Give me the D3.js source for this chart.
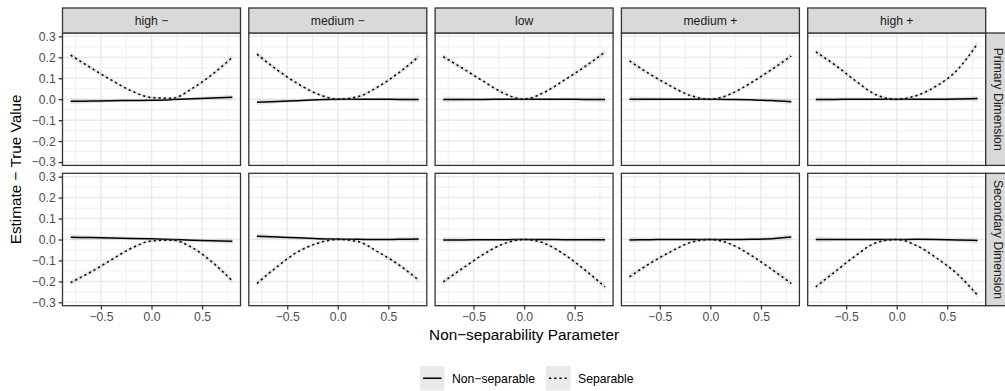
<!DOCTYPE html>
<html>
<head>
<meta charset="utf-8">
<script src="https://cdn.jsdelivr.net/npm/d3@7"></script>
<style>
  body { margin: 0; background: #fff; }
  text { font-family: "Liberation Sans", Arial, sans-serif; }
</style>
</head>
<body>
<div id="chart"></div>
<script>
// facet labels
const colLabels = ["high \u2212", "medium \u2212", "low", "medium +", "high +"];
const rowLabels = ["Primary Dimension", "Secondary Dimension"];
const seriesNames = ["Non\u2212separable", "Separable"];

// x positions of the fitted curves
const xPoints = [-0.8, -0.6, -0.4, -0.2, 0, 0.2, 0.4, 0.6, 0.8];

// primary dimension, one row per column facet
const primaryNonSep = [
  [-0.010, -0.009, -0.007, -0.006, -0.005, -0.002, 0.002, 0.006, 0.009],
  [-0.014, -0.011, -0.007, -0.003, 0.000, 0.000, 0.000, -0.001, -0.002],
  [-0.002, -0.001, -0.001, 0.000, 0.000, 0.000, 0.000, -0.001, -0.001],
  [0.000, 0.000, 0.000, 0.000, 0.000, -0.001, -0.003, -0.006, -0.012],
  [-0.002, -0.001, 0.000, 0.000, 0.000, 0.000, 0.000, 0.001, 0.003]
];
const primarySep = [
  [0.210, 0.150, 0.092, 0.040, 0.008, 0.004, 0.050, 0.118, 0.200],
  [0.215, 0.140, 0.075, 0.025, 0.000, 0.012, 0.060, 0.125, 0.203],
  [0.203, 0.145, 0.085, 0.028, 0.000, 0.033, 0.092, 0.155, 0.225],
  [0.183, 0.120, 0.065, 0.018, 0.000, 0.025, 0.078, 0.140, 0.206],
  [0.226, 0.160, 0.085, 0.020, 0.000, 0.018, 0.065, 0.140, 0.266]
];

// secondary dimension
const secondaryNonSep = [
  [0.011, 0.009, 0.007, 0.005, 0.003, 0.000, -0.003, -0.006, -0.008],
  [0.015, 0.012, 0.008, 0.004, 0.002, 0.001, 0.000, 0.001, 0.002],
  [-0.002, -0.002, -0.001, -0.001, 0.000, 0.000, -0.001, -0.001, -0.001],
  [-0.002, -0.001, 0.000, 0.000, 0.000, 0.000, 0.001, 0.004, 0.012],
  [0.000, 0.000, 0.000, 0.000, 0.000, 0.001, 0.000, -0.002, -0.005]
];
const secondarySep = [
  [-0.206, -0.155, -0.098, -0.042, -0.007, -0.003, -0.038, -0.108, -0.198],
  [-0.210, -0.130, -0.060, -0.018, 0.000, -0.010, -0.060, -0.120, -0.194],
  [-0.202, -0.135, -0.070, -0.020, 0.000, -0.018, -0.072, -0.145, -0.226],
  [-0.178, -0.115, -0.060, -0.015, 0.000, -0.022, -0.075, -0.140, -0.210],
  [-0.226, -0.150, -0.075, -0.015, 0.000, -0.030, -0.090, -0.165, -0.266]
];

// half width of the confidence band
const seBand = [0.014, 0.010, 0.008, 0.007, 0.007, 0.007, 0.008, 0.010, 0.014];

const xTicks = [-0.5, 0, 0.5];
const xMinor = [-0.75, -0.25, 0.25, 0.75];
const yTicks = [-0.3, -0.2, -0.1, 0, 0.1, 0.2, 0.3];
const yMinor = [-0.25, -0.15, -0.05, 0.05, 0.15, 0.25];

const width = 1005, height = 391;
const panelLeft = 62.5, panelTop = 33, panelW = 178, panelH = 132.4, gapX = 8.3, gapY = 7.9, stripH = 25;

const rows = [[primaryNonSep, primarySep], [secondaryNonSep, secondarySep]];

const svg = d3.select("#chart").append("svg").attr("width", width).attr("height", height);

let x = d3.scaleLinear().domain([-0.88, 0.88]).range([0, panelW]);
let y = d3.scaleLinear().domain([-0.316, 0.316]).range([panelH, 0]);

let line = d3.line().x((d, i) => x(xPoints[i])).y(d => y(d)).curve(d3.curveMonotoneX);
let band = d3.area().x((d, i) => x(xPoints[i])).y0((d, i) => y(d - seBand[i])).y1((d, i) => y(d + seBand[i])).curve(d3.curveMonotoneX);

const fmt = d3.format(".1f");

rows.forEach((series, r) => {
  colLabels.forEach((lab, c) => {
    let px = panelLeft + c * (panelW + gapX);
    let py = panelTop + r * (panelH + gapY);
    let g = svg.append("g").attr("transform", `translate(${px},${py})`);

    // grid
    g.selectAll("line.yminor").data(yMinor).enter().append("line").attr("x1", 0).attr("x2", panelW)
      .attr("y1", d => y(d)).attr("y2", d => y(d)).attr("stroke", "#ebebeb").attr("stroke-width", 0.75);
    g.selectAll("line.xminor").data(xMinor).enter().append("line").attr("y1", 0).attr("y2", panelH)
      .attr("x1", d => x(d)).attr("x2", d => x(d)).attr("stroke", "#ebebeb").attr("stroke-width", 0.75);
    g.selectAll("line.ymajor").data(yTicks).enter().append("line").attr("x1", 0).attr("x2", panelW)
      .attr("y1", d => y(d)).attr("y2", d => y(d)).attr("stroke", "#ebebeb").attr("stroke-width", 1.5);
    g.selectAll("line.xmajor").data(xTicks).enter().append("line").attr("y1", 0).attr("y2", panelH)
      .attr("x1", d => x(d)).attr("x2", d => x(d)).attr("stroke", "#ebebeb").attr("stroke-width", 1.5);

    // smooth fits: band then line, for each series
    series.forEach((s, k) => {
      g.append("path").datum(s[c]).attr("d", band).attr("fill", "#999").attr("fill-opacity", 0.25);
      g.append("path").datum(s[c]).attr("d", line).attr("fill", "none").attr("stroke", "#000")
        .attr("stroke-width", 1.5).attr("stroke-dasharray", k == 1 ? "2.2,3" : null);
    });

    g.append("rect").attr("width", panelW).attr("height", panelH).attr("fill", "none")
      .attr("stroke", "#333").attr("stroke-width", 1.3);

    // top strip
    if (r == 0) {
      g.append("rect").attr("y", -stripH).attr("width", panelW).attr("height", stripH)
        .attr("fill", "#d9d9d9").attr("stroke", "#333").attr("stroke-width", 1.3);
      g.append("text").attr("x", panelW / 2).attr("y", -stripH / 2 + 4.3).attr("text-anchor", "middle")
        .style("font-size", "12.2px").style("fill", "#1a1a1a").text(lab);
    }
    // right strip
    if (c == colLabels.length - 1) {
      g.append("rect").attr("x", panelW).attr("width", stripH).attr("height", panelH)
        .attr("fill", "#d9d9d9").attr("stroke", "#333").attr("stroke-width", 1.3);
      g.append("text").attr("transform", `translate(${panelW + stripH / 2 - 4.3},${panelH / 2}) rotate(90)`)
        .attr("text-anchor", "middle").style("font-size", "12.2px").style("fill", "#1a1a1a").text(rowLabels[r]);
    }
    // y axis
    if (c == 0) {
      let ya = g.append("g").call(d3.axisLeft(y).tickValues(yTicks).tickFormat(fmt).tickSize(3.8).tickPadding(3));
      ya.select(".domain").remove();
      ya.selectAll("line").attr("stroke", "#333").attr("stroke-width", 1.3);
      ya.selectAll("text").style("font-size", "12.2px").style("fill", "#4d4d4d").style("font-family", "Liberation Sans, Arial, sans-serif");
    }
    // x axis
    if (r == rows.length - 1) {
      let xa = g.append("g").attr("transform", `translate(0,${panelH})`)
        .call(d3.axisBottom(x).tickValues(xTicks).tickFormat(fmt).tickSize(3.8).tickPadding(3));
      xa.select(".domain").remove();
      xa.selectAll("line").attr("stroke", "#333").attr("stroke-width", 1.3);
      xa.selectAll("text").style("font-size", "12.2px").style("fill", "#4d4d4d").style("font-family", "Liberation Sans, Arial, sans-serif");
    }
  });
});

// axis titles
let plotRight = panelLeft + colLabels.length * panelW + (colLabels.length - 1) * gapX;
svg.append("text").attr("x", (panelLeft + plotRight) / 2).attr("y", 339.5).attr("text-anchor", "middle")
  .style("font-size", "15.3px").text("Non\u2212separability Parameter");
let plotBottom = panelTop + 2 * panelH + gapY;
svg.append("text").attr("transform", `translate(21,${(panelTop + plotBottom) / 2}) rotate(-90)`).attr("text-anchor", "middle")
  .style("font-size", "15.3px").text("Estimate \u2212 True Value");

// legend
const legendX = [420, 546];
const keySize = 24.5;
seriesNames.forEach((name, k) => {
  let lg = svg.append("g").attr("transform", `translate(${legendX[k]},366)`);
  lg.append("rect").attr("width", keySize).attr("height", keySize).attr("fill", "#999").attr("fill-opacity", 0.22);
  lg.append("line").attr("x1", 3).attr("x2", keySize - 3).attr("y1", keySize / 2).attr("y2", keySize / 2)
    .attr("stroke", "#000").attr("stroke-width", 1.5).attr("stroke-dasharray", k == 1 ? "2.2,3" : null);
  lg.append("text").attr("x", keySize + 7.5).attr("y", keySize / 2 + 4.3).style("font-size", "12.2px").text(name);
});
</script>
</body>
</html>
